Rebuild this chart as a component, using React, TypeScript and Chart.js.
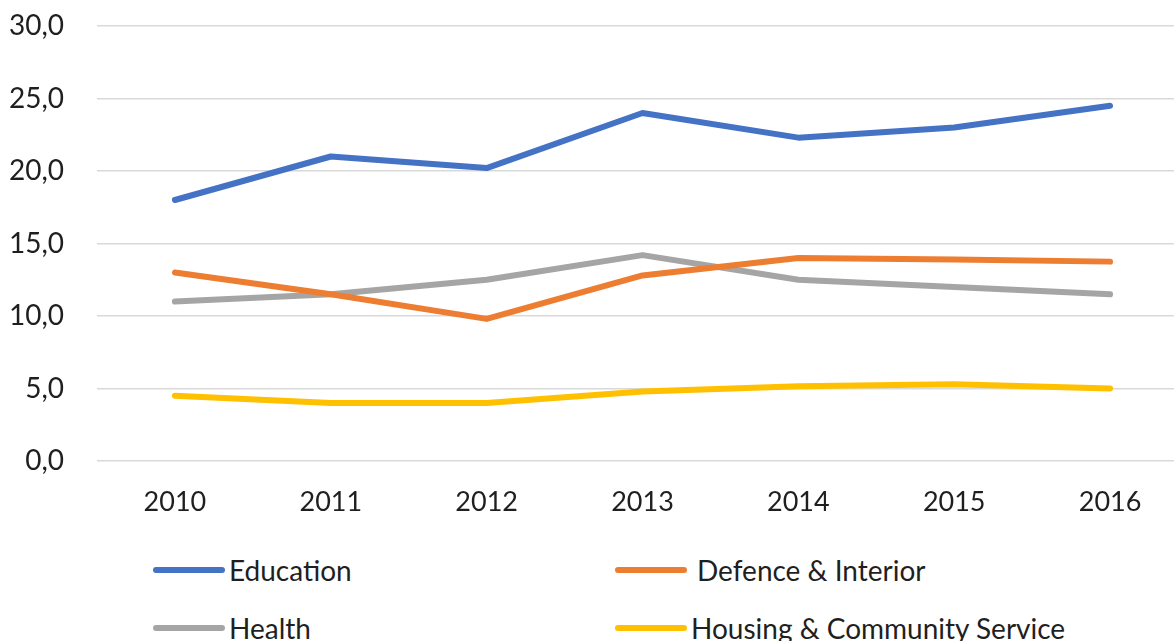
import React, { useEffect, useRef } from "react";
import { Chart, registerables } from "chart.js";

Chart.register(...registerables);

const years = ["2010", "2011", "2012", "2013", "2014", "2015", "2016"];
const education = [18.0, 21.0, 20.2, 24.0, 22.3, 23.0, 24.5];
const defence = [13.0, 11.5, 9.8, 12.8, 14.0, 13.9, 13.75];
const health = [11.0, 11.5, 12.5, 14.2, 12.5, 12.0, 11.5];
const housing = [4.5, 4.0, 4.0, 4.8, 5.15, 5.3, 5.0];

const seriesNames = ["Education", "Defence & Interior", "Health", "Housing & Community Service"];
const seriesColors = ["#4472C4", "#ED7D31", "#A5A5A5", "#FFC000"];
const seriesValues = [education, defence, health, housing];

const FONT = "Lato, 'Open Sans', sans-serif";

export default function App() {
  const ref = useRef<HTMLCanvasElement | null>(null);

  useEffect(() => {
    if (!ref.current) return;
    const chart = new Chart(ref.current, {
      type: "line",
      data: {
        labels: years,
        datasets: seriesNames.map((name, i) => ({
          label: name,
          data: seriesValues[i],
          borderColor: seriesColors[i],
          backgroundColor: seriesColors[i],
          borderWidth: 6,
          pointRadius: 0,
          tension: 0,
          borderCapStyle: "round" as const,
          borderJoinStyle: "round" as const,
        })),
      },
      options: {
        responsive: false,
        animation: false,
        layout: { padding: { top: 26, left: 0, right: 0, bottom: 0 } },
        plugins: {
          legend: { display: false },
          tooltip: { enabled: false },
        },
        scales: {
          x: {
            offset: true,
            grid: { display: false, drawTicks: false },
            border: { display: false },
            ticks: {
              color: "#1f1f1f",
              font: { family: FONT, size: 27 },
              padding: 25,
              maxRotation: 0,
            },
            afterFit: (s: any) => {
              s.height = 60;
            },
          },
          y: {
            min: 0,
            max: 30,
            grid: { color: "#D9D9D9", lineWidth: 1.6, drawTicks: false },
            border: { display: false },
            ticks: {
              stepSize: 5,
              color: "#1f1f1f",
              font: { family: FONT, size: 28 },
              padding: 33,
              callback: (v: any) => Number(v).toFixed(1).replace(".", ","),
            },
            afterFit: (s: any) => {
              s.width = 97;
              s.paddingTop = 0;
              s.paddingBottom = 0;
            },
          },
        },
      },
    });
    return () => chart.destroy();
  }, []);

  const colLeft = [153, 615];
  const rowCenter = [570, 628];

  return (
    <div
      style={{
        position: "absolute",
        left: 0,
        top: 0,
        width: 1174,
        height: 641,
        overflow: "hidden",
        background: "#fff",
      }}
    >
      <canvas ref={ref} width={1188} height={521} style={{ width: 1188, height: 521, display: "block" }} />
      {seriesNames.map((name, i) => {
        const col = i % 2;
        const row = Math.floor(i / 2);
        return (
          <div
            key={name}
            style={{
              position: "absolute",
              left: colLeft[col],
              top: rowCenter[row] - 20,
              height: 40,
              display: "flex",
              alignItems: "center",
              whiteSpace: "nowrap",
            }}
          >
            <span
              style={{
                display: "inline-block",
                width: 72,
                height: 6,
                borderRadius: 3,
                background: seriesColors[i],
              }}
            />
            <span
              style={{
                marginLeft: i === 1 ? 10 : 4,
                fontFamily: FONT,
                fontSize: 28,
                color: "#1f1f1f",
              }}
            >
              {name}
            </span>
          </div>
        );
      })}
    </div>
  );
}
